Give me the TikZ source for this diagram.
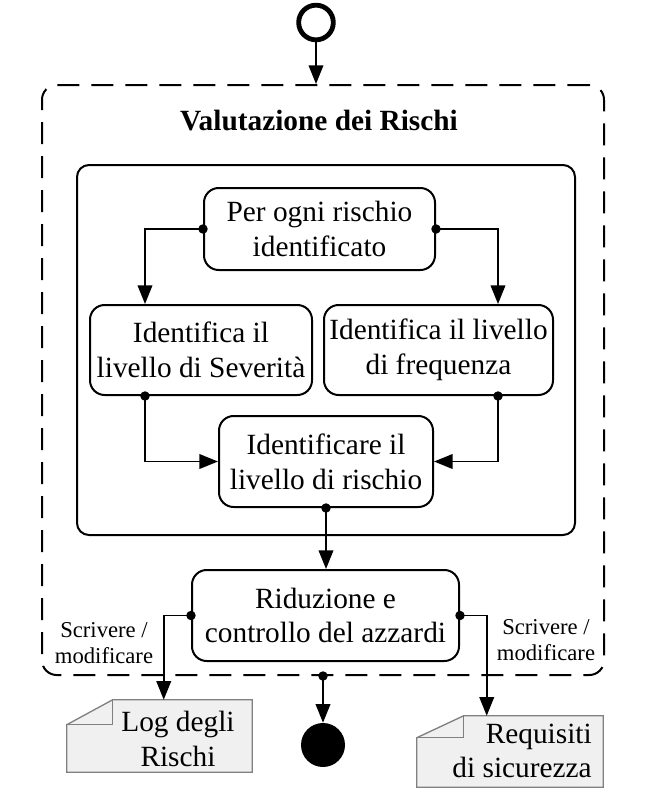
\documentclass[tikz,border=0pt]{standalone}
\usepackage{fontspec}
\setmainfont{Liberation Serif}
\usetikzlibrary{arrows.meta,calc}
\tikzset{
  act/.style={draw, line width=1.5pt, rounded corners=11pt, align=center, inner sep=0pt, font=\fontsize{22}{26}\selectfont},
  flow/.style={line width=1.2pt, {Circle[length=7pt]}-{Triangle[length=14pt,width=11pt]}, shorten <=-3.5pt},
  docshape/.style={draw=gray, line width=1pt, fill=gray!12},
  doctext/.style={align=center, inner sep=0pt, font=\fontsize{22}{26}\selectfont},
  note/.style={align=center, inner sep=0pt, font=\fontsize{17}{20}\selectfont},
}
\begin{document}
\begin{tikzpicture}[x=0.75pt, y=-0.75pt]
\useasboundingbox (0,0) rectangle (663,801);
% containers
\node[draw, dash pattern=on 16.5pt off 9pt, line width=1.5pt, rounded corners=11pt, minimum width=421.5pt, minimum height=442.5pt] (outer) at (323,380) {};
\node[font=\bfseries\fontsize{22}{26}\selectfont] (title) at (319,121) {Valutazione dei Rischi};
\node[draw, line width=1.5pt, rounded corners=9pt, minimum width=373.5pt, minimum height=277.5pt] (inner) at (326,350) {};
% activities
\node[act, minimum width=173.25pt, minimum height=61.5pt] (perogni) at (319.5,229) {Per ogni rischio\\identificato};
\node[act, minimum width=166.5pt, minimum height=67.5pt] (sev) at (201,350) {Identifica il\\livello di Severità};
\node[act, minimum width=171.75pt, minimum height=67.5pt] (freq) at (438.5,350) {Identifica il livello\\di frequenza};
\node[act, minimum width=160.5pt, minimum height=68.25pt] (ident) at (326,461.5) {Identificare il\\livello di rischio};
\node[act, minimum width=200.25pt, minimum height=68.25pt] (riduz) at (325.5,615.5) {Riduzione e\\controllo del azzardi};
% initial / final
\node[circle, draw, line width=3.6pt, minimum size=26pt, inner sep=0pt] (start) at (316,22.5) {};
\node[circle, fill=black, minimum size=33pt, inner sep=0pt] (stop) at (323,745) {};
% documents
\node[minimum width=138.75pt, minimum height=54pt] (logdoc) at (159.5,736) {};
\draw[docshape] ($(logdoc.north west)+(46,0)$) -- (logdoc.north east) -- (logdoc.south east) -- (logdoc.south west) -- ($(logdoc.north west)+(0,25)$) -- cycle;
\draw[docshape, fill=none] ($(logdoc.north west)+(46,0)$) -- ++(0,25) -- ($(logdoc.north west)+(0,25)$);
\node[doctext] (logtxt) at (178,739) {Log degli\\Rischi};
\node[minimum width=139.5pt, minimum height=53.25pt] (reqdoc) at (510,751.5) {};
\draw[docshape] ($(reqdoc.north west)+(47,0)$) -- (reqdoc.north east) -- (reqdoc.south east) -- (reqdoc.south west) -- ($(reqdoc.north west)+(0,22)$) -- cycle;
\draw[docshape, fill=none] ($(reqdoc.north west)+(47,0)$) -- ++(0,22) -- ($(reqdoc.north west)+(0,22)$);
\node[doctext, align=right, anchor=east] (reqtxt) at (592,751) {Requisiti\\di sicurezza};
% flows
\draw[line width=1.2pt, -{Triangle[length=14pt,width=11pt]}] (start) -- (start |- outer.north);
\draw[flow] (perogni.west) -| ($(sev.north west)+(56,0)$);
\draw[flow] (perogni.east) -| ($(freq.north east)+(-56,0)$);
\draw[flow] ($(sev.south west)+(56,0)$) |- (ident.west);
\draw[flow] ($(freq.south east)+(-56,0)$) |- (ident.east);
\draw[flow] (ident.south) -- (ident.south |- riduz.north);
\draw[flow] (riduz.west) -| ($(logdoc.north west)+(97,0)$);
\draw[flow] (riduz.east) -| ($(reqdoc.north west)+(70,0)$);
\draw[flow] (outer.south) -- (stop);
\node[note] (wleft) at (104,643) {Scrivere /\\modificare};
\node[note] (wright) at (546,640) {Scrivere /\\modificare};
\end{tikzpicture}
\end{document}
